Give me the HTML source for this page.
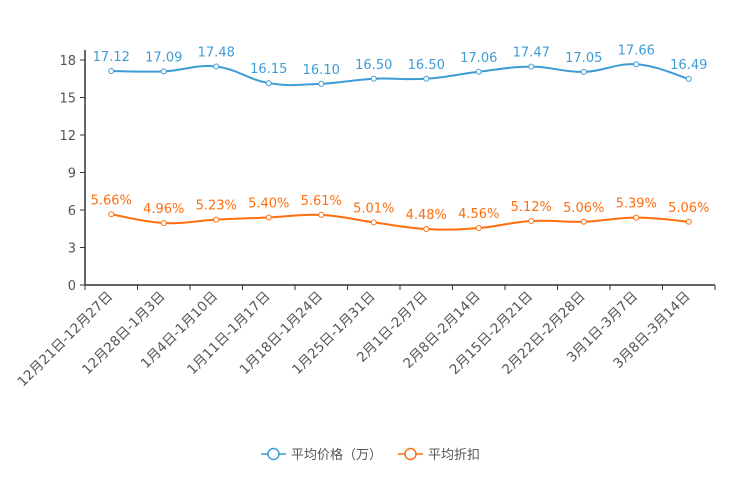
<!DOCTYPE html>
<html><head><meta charset="utf-8"><style>
body{margin:0;background:#fff;}
svg{display:block;font-family:"DejaVu Sans","Noto Sans CJK SC",sans-serif;}
</style></head><body>
<svg id="chart" width="744" height="496"></svg>
<script>
const categories=["12月21日-12月27日","12月28日-1月3日","1月4日-1月10日","1月11日-1月17日","1月18日-1月24日","1月25日-1月31日","2月1日-2月7日","2月8日-2月14日","2月15日-2月21日","2月22日-2月28日","3月1日-3月7日","3月8日-3月14日"];
const priceValues=[17.12,17.09,17.48,16.15,16.10,16.50,16.50,17.06,17.47,17.05,17.66,16.49];
const discountValues=[5.66,4.96,5.23,5.40,5.61,5.01,4.48,4.56,5.12,5.06,5.39,5.06];
const yTicks=[0,3,6,9,12,15,18];
const NS="http://www.w3.org/2000/svg";
const svg=document.getElementById('chart');
const L=85,R=715,T=60,B=285,yMax=18;
const band=(R-L)/categories.length;
const xs=i=>L+band*(i+0.5);
const ys=v=>B-(v/yMax)*(B-T);
function mk(tag,attrs,parent){const e=document.createElementNS(NS,tag);for(const k in attrs)e.setAttribute(k,attrs[k]);(parent||svg).appendChild(e);return e;}
const yAxis=mk('g',{});


mk('line',{x1:L,y1:T-10,x2:L,y2:B,stroke:'#333','stroke-width':1.5},yAxis);
yTicks.forEach(t=>{
  mk('line',{x1:L-5,y1:ys(t),x2:L,y2:ys(t),stroke:'#333'},yAxis);
  const tx=mk('text',{x:L-9,y:ys(t)+5,'text-anchor':'end','font-size':13,fill:'#555'},yAxis);
  tx.textContent=t;
  
  
});
const xAxis=mk('g',{});


mk('line',{x1:L,y1:B,x2:R,y2:B,stroke:'#333','stroke-width':1.5},xAxis);
for(let i=0;i<=categories.length;i++)mk('line',{x1:L+band*i,y1:B,x2:L+band*i,y2:B+5,stroke:'#333'},xAxis);
categories.forEach((c,i)=>{
  const x=xs(i)+2,y=B+12;
  const tx=mk('text',{x:x,y:y,'text-anchor':'end','font-size':13.5,fill:'#555',transform:`rotate(-45 ${x} ${y})`},xAxis);
  tx.textContent=c;
  
  
});
function smooth(pts){
  let d=`M${pts[0][0]},${pts[0][1]}`;
  for(let i=0;i<pts.length-1;i++){
    const p0=pts[i-1]||pts[i],p1=pts[i],p2=pts[i+1],p3=pts[i+2]||p2;
    const s=0.2;
    d+=` C${p1[0]+(p2[0]-p0[0])*s},${p1[1]+(p2[1]-p0[1])*s} ${p2[0]-(p3[0]-p1[0])*s},${p2[1]-(p3[1]-p1[1])*s} ${p2[0]},${p2[1]}`;
  }
  return d;
}
function series(vals,color,name,fmt){
  const g=mk('g',{});
  
  
  const pts=vals.map((v,i)=>[xs(i),ys(v)]);
  mk('path',{d:smooth(pts),fill:'none',stroke:color,'stroke-width':2},g);
  pts.forEach((p,i)=>{
    const c=mk('circle',{cx:p[0],cy:p[1],r:2.5,fill:'#fff',stroke:color,'stroke-width':1},g);
    
    
    const t=mk('text',{x:p[0],y:p[1]-10,'text-anchor':'middle','font-size':13,fill:color},g);
    t.textContent=fmt(vals[i]);
    
    
  });
}
series(priceValues,'#3d9bd6','price-series',v=>v.toFixed(2));
series(discountValues,'#ff6e0d','discount-series',v=>v.toFixed(2)+'%');
function legend(x,color,label,name){
  const g=mk('g',{});
  
  
  mk('line',{x1:x,y1:454,x2:x+25,y2:454,stroke:color,'stroke-width':1.5},g);
  mk('circle',{cx:x+12.5,cy:454,r:5.5,fill:'#fff',stroke:color,'stroke-width':1.5},g);
  const t=mk('text',{x:x+30,y:459,'font-size':13,fill:'#555'},g);
  t.textContent=label;
}
legend(261,'#3d9bd6','平均价格（万）','legend-price');
legend(398,'#ff6e0d','平均折扣','legend-discount');
</script>
</body></html>
